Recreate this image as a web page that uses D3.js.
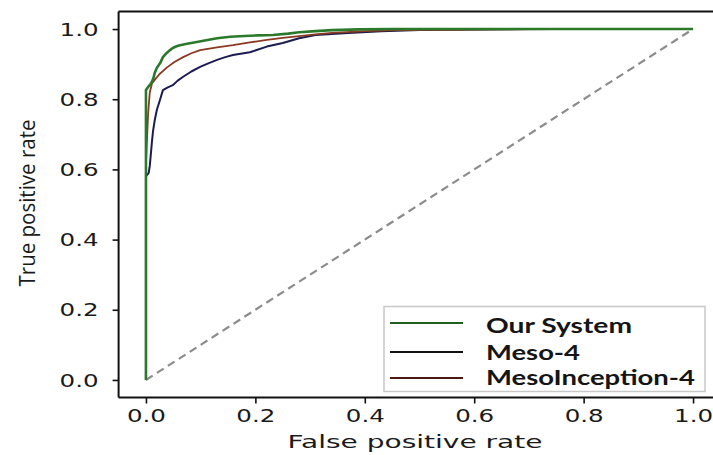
<!DOCTYPE html>
<html>
<head>
<meta charset="utf-8">
<script src="https://cdn.jsdelivr.net/npm/d3@7"></script>
<style>
  html, body { margin: 0; padding: 0; background: #fff; }
  svg { display: block; }
</style>
</head>
<body>
<svg id="chart" width="713" height="455"></svg>
<script>
// ROC curves: false positive rate vs true positive rate
const seriesNames = ["Our System", "Meso-4", "MesoInception-4"];
const seriesColors = ["#2b7a2b", "#1c1c50", "#8a3a22"];
const legendColors = ["#1f5f1f", "#111111", "#4a1a10"];

const ourSystemFpr = [0, 0, 0.004, 0.008, 0.011, 0.014, 0.016, 0.02, 0.026, 0.031, 0.038, 0.044, 0.049, 0.056, 0.062, 0.075, 0.093, 0.11, 0.13, 0.154, 0.18, 0.205, 0.232, 0.26, 0.28, 0.31, 0.34, 0.39, 0.45, 0.5, 0.6, 0.7, 0.8, 0.9, 0.97, 1.0];
const ourSystemTpr = [0, 0.826, 0.835, 0.842, 0.85, 0.862, 0.875, 0.89, 0.903, 0.92, 0.932, 0.94, 0.946, 0.951, 0.954, 0.958, 0.963, 0.968, 0.974, 0.978, 0.98, 0.982, 0.983, 0.987, 0.991, 0.994, 0.997, 0.999, 1.0, 1.0, 1.0, 1.0, 1.0, 1.0, 1.0, 1.0];

const meso4Fpr = [0, 0, 0.005, 0.007, 0.009, 0.011, 0.013, 0.016, 0.02, 0.026, 0.031, 0.04, 0.049, 0.058, 0.068, 0.083, 0.099, 0.115, 0.13, 0.145, 0.159, 0.19, 0.221, 0.25, 0.28, 0.31, 0.34, 0.37, 0.43, 0.5, 0.6, 0.7, 0.8, 0.9, 1.0];
const meso4Tpr = [0, 0.58, 0.59, 0.61, 0.645, 0.68, 0.71, 0.74, 0.77, 0.80, 0.826, 0.834, 0.84, 0.853, 0.864, 0.879, 0.892, 0.903, 0.912, 0.92, 0.926, 0.934, 0.95, 0.96, 0.974, 0.983, 0.986, 0.989, 0.994, 0.997, 0.999, 1.0, 1.0, 1.0, 1.0];

const mesoInceptionFpr = [0, 0, 0.002, 0.004, 0.007, 0.011, 0.016, 0.025, 0.038, 0.052, 0.068, 0.083, 0.099, 0.13, 0.159, 0.19, 0.221, 0.25, 0.28, 0.31, 0.34, 0.40, 0.46, 0.55, 0.65, 0.75, 0.85, 0.95, 1.0];
const mesoInceptionTpr = [0, 0.62, 0.69, 0.76, 0.82, 0.845, 0.855, 0.872, 0.89, 0.906, 0.92, 0.931, 0.94, 0.948, 0.954, 0.962, 0.969, 0.975, 0.98, 0.985, 0.989, 0.994, 0.997, 0.998, 0.999, 1.0, 1.0, 1.0, 1.0];

const tickValues = [0, 0.2, 0.4, 0.6, 0.8, 1.0];
const tickLabels = ["0.0", "0.2", "0.4", "0.6", "0.8", "1.0"];

const svg = d3.select("#chart");

// axes range padded by 5% on each side
const x = d3.scaleLinear().domain([-0.05, 1.05]).range([118.6, 720.4]);
const y = d3.scaleLinear().domain([-0.05, 1.05]).range([397.5, 11.5]);

const plot = svg.append("g");

// chance diagonal
plot.append("line")
  .attr("x1", x(0)).attr("y1", y(0))
  .attr("x2", x(1)).attr("y2", y(1))
  .attr("stroke", "#8c8c8c")
  .attr("stroke-width", 2.2)
  .attr("stroke-dasharray", "8,5");

const curves = [
  { fpr: meso4Fpr, tpr: meso4Tpr, color: seriesColors[1], width: 2 },
  { fpr: mesoInceptionFpr, tpr: mesoInceptionTpr, color: seriesColors[2], width: 1.8 },
  { fpr: ourSystemFpr, tpr: ourSystemTpr, color: seriesColors[0], width: 2.6 }
];

const line = d3.line()
  .x(d => x(d[0]))
  .y(d => y(d[1]))
  .curve(d3.curveLinear);

curves.forEach(c => {
  const pts = c.fpr.map((f, i) => [f, c.tpr[i]]);
  plot.append("path")
    .attr("d", line(pts))
    .attr("fill", "none")
    .attr("stroke", c.color)
    .attr("stroke-width", c.width)
    .attr("stroke-linejoin", "round");
});

// frame
const frame = svg.append("g").attr("fill", "none").attr("stroke", "#111").attr("stroke-width", 2);
frame.append("line").attr("x1", x.range()[0]).attr("x2", x.range()[0]).attr("y1", y.range()[1]).attr("y2", y.range()[0]);
frame.append("line").attr("x1", x.range()[0]).attr("x2", x.range()[1]).attr("y1", y.range()[0]).attr("y2", y.range()[0]);
frame.append("line").attr("x1", x.range()[0]).attr("x2", x.range()[1]).attr("y1", y.range()[1]).attr("y2", y.range()[1]);

// axes
const xAxis = d3.axisBottom(x).tickValues(tickValues).tickFormat((d, i) => tickLabels[i]).tickSize(6).tickPadding(4);
const yAxis = d3.axisLeft(y).tickValues(tickValues).tickFormat((d, i) => tickLabels[i]).tickSize(6).tickPadding(4);

const gx = svg.append("g").attr("transform", `translate(0,${y.range()[0]})`).call(xAxis);
const gy = svg.append("g").attr("transform", `translate(${x.range()[0]},0)`).call(yAxis);

[gx, gy].forEach(g => {
  g.select(".domain").remove();
  g.selectAll(".tick line").attr("stroke", "#111").attr("stroke-width", 1.6);
  g.selectAll(".tick text")
    .attr("font-family", "DejaVu Sans")
    .attr("font-size", 17)
    .attr("fill", "#1a1a1a")
    .attr("textLength", 39)
    .attr("lengthAdjust", "spacingAndGlyphs");
});
gx.selectAll(".tick text").attr("y", 12).attr("dy", "0.71em");
gy.selectAll(".tick text").attr("x", -20).attr("dy", "0.36em");

// axis titles
svg.append("text")
  .attr("x", 415).attr("y", 448)
  .attr("text-anchor", "middle")
  .attr("font-family", "DejaVu Sans")
  .attr("font-size", 18)
  .attr("fill", "#1a1a1a")
  .attr("textLength", 255)
  .attr("lengthAdjust", "spacingAndGlyphs")
  .text("False positive rate");

svg.append("text")
  .attr("transform", "translate(35,203) rotate(-90)")
  .attr("text-anchor", "middle")
  .attr("font-family", "Open Sans")
  .attr("font-size", 21)
  .attr("fill", "#1a1a1a")
  .attr("textLength", 167)
  .attr("lengthAdjust", "spacingAndGlyphs")
  .text("True positive rate");

// legend
const legend = svg.append("g");
legend.append("rect")
  .attr("x", 384).attr("y", 306.5)
  .attr("width", 321).attr("height", 85)
  .attr("fill", "#fff").attr("fill-opacity", 0.9)
  .attr("stroke", "#c8c8c8").attr("stroke-width", 1.5);

const legendRows = [323, 352, 378];
const legendBase = [333, 360, 385];
const legendWidths = [146, 94, 209];
seriesNames.forEach((name, i) => {
  legend.append("line")
    .attr("x1", 390).attr("x2", 463)
    .attr("y1", legendRows[i]).attr("y2", legendRows[i])
    .attr("stroke", legendColors[i]).attr("stroke-width", 2);
  legend.append("text")
    .attr("x", 486).attr("y", legendBase[i])
    .attr("font-family", "Lato")
    .attr("font-weight", 700)
    .attr("font-size", 20)
    .attr("fill", "#151515")
    .attr("textLength", legendWidths[i])
    .attr("lengthAdjust", "spacingAndGlyphs")
    .text(name);
});
</script>
</body>
</html>
